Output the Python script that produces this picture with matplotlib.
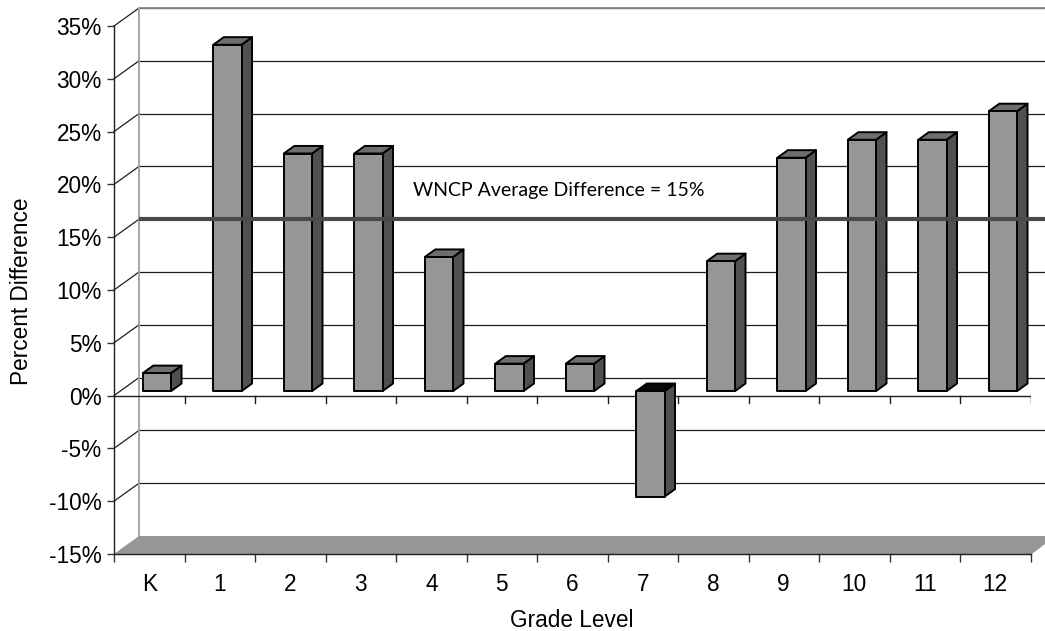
import matplotlib
matplotlib.use("Agg")
import matplotlib.pyplot as plt
from matplotlib.patches import Polygon

plt.rcParams["font.family"] = ["Liberation Sans", "DejaVu Sans"]

# ---- data ----
grades = ["K", "1", "2", "3", "4", "5", "6", "7", "8", "9", "10", "11", "12"]
pct_diff = [1.7, 32.8, 22.5, 22.5, 12.7, 2.6, 2.6, -10.0, 12.3, 22.1, 23.8, 23.8, 26.5]
average_diff = 15
avg_label = "WNCP Average Difference = 15%"
y_ticks = [-15, -10, -5, 0, 5, 10, 15, 20, 25, 30, 35]

# ---- geometry / style ----
W, H = 1045, 631
FS = 16.3
fig = plt.figure(figsize=(W / 100, H / 100), dpi=100)
ax_left, ax_right, ax_top, ax_bottom = 114, 1030.5, 26, 554
ax = fig.add_axes([ax_left / W, 1 - ax_bottom / H, (ax_right - ax_left) / W, (ax_bottom - ax_top) / H])
n = len(grades)
ymin, ymax = -15, 35
ax.set_xlim(0, n)
ax.set_ylim(ymin, ymax)

px_x = (ax_right - ax_left) / n
px_y = (ax_bottom - ax_top) / (ymax - ymin)
DX = 25 / px_x      # depth offset in x data units
DY = 18 / px_y      # depth offset in y data units

line_col = "#1e1e1e"
far = n + 2  # beyond the right edge (clipped by figure)

# back wall gridlines, side-wall diagonals
for t in y_ticks:
    if t == ymin:
        continue
    ax.plot([DX, far], [t + DY, t + DY], color=line_col, lw=0.9, clip_on=False, zorder=1)
    ax.plot([0, DX], [t, t + DY], color=line_col, lw=0.9, clip_on=False, zorder=1)
# back wall top border and left edge
ax.plot([DX, far], [ymax + DY, ymax + DY], color="#8a8a8a", lw=1.3, clip_on=False, zorder=1)
ax.plot([DX, DX], [ymin + DY, ymax + DY], color="#a0a0a0", lw=1.3, clip_on=False, zorder=1)

# floor
floor = Polygon([(0, ymin), (n + 0.02, ymin), (n + DX, ymin + DY), (DX, ymin + DY)],
                closed=True, facecolor="#969696", edgecolor="none", clip_on=False, zorder=2)
ax.add_patch(floor)

# front zero line (category axis) with tick marks
ax.plot([0, n], [0, 0], color=line_col, lw=1.0, zorder=2)
tick_len = 7 / px_y
for k in range(1, n + 1):
    ax.plot([k, k], [0, -tick_len], color=line_col, lw=1.0, zorder=2)

# bars (3D look)
d0 = 0.25          # depth where the bar front sits
bd = 0.42          # bar depth fraction
bw = 0.40          # bar width
ox, oy = d0 * DX, d0 * DY
tx, ty = bd * DX, bd * DY
edge_kw = dict(edgecolor="black", linewidth=1.4, joinstyle="round", clip_on=False)
for i, v in enumerate(pct_diff):
    x0 = i + 0.32 + ox
    x1 = x0 + bw
    b = oy
    lo, hi = min(b, b + v), max(b, b + v)
    # side face
    ax.add_patch(Polygon([(x1, lo), (x1 + tx, lo + ty), (x1 + tx, hi + ty), (x1, hi)],
                         facecolor="#505050", zorder=3 + i * 0.01, **edge_kw))
    # top face
    top_col = "#6e6e6e" if v >= 0 else "#0a0a0a"
    ax.add_patch(Polygon([(x0, hi), (x1, hi), (x1 + tx, hi + ty), (x0 + tx, hi + ty)],
                         facecolor=top_col, zorder=3 + i * 0.01, **edge_kw))
    # front face
    ax.add_patch(Polygon([(x0, lo), (x1, lo), (x1, hi), (x0, hi)],
                         facecolor="#969696", zorder=3 + i * 0.01, **edge_kw))

# average line on back wall
ax.plot([DX, far], [average_diff + DY, average_diff + DY], color="#4a4a4a", lw=3.0,
        clip_on=False, zorder=5, solid_capstyle="butt")
ax.text(4.24, average_diff + DY + 2.7, avg_label, fontsize=14.0, family=["Lato", "DejaVu Sans"],
        ha="left", va="center", color="black", zorder=6)

# axes styling
for s in ["top", "right"]:
    ax.spines[s].set_visible(False)
for s in ["left", "bottom"]:
    ax.spines[s].set_color(line_col)
    ax.spines[s].set_linewidth(1.0)
    ax.spines[s].set_zorder(7)

ax.set_yticks(y_ticks)
ax.set_yticklabels([f"{t}%" for t in y_ticks])
ax.tick_params(axis="y", direction="out", length=5, width=1.0, color="#333333",
               labelsize=FS, pad=4)
ax.set_xticks(range(0, n + 1))
ax.set_xticklabels([""] * (n + 1))
ax.tick_params(axis="x", which="major", direction="out", length=5.8, width=1.0, color="#333333")
ax.set_xticks([i + 0.5 for i in range(n)], minor=True)
ax.set_xticklabels(grades, minor=True)
ax.tick_params(axis="x", which="minor", length=0, labelsize=FS, pad=14)

ax.set_xlabel("Grade Level", fontsize=FS, labelpad=9)
fig.text(22 / W, 1 - 291 / H, "Percent Difference", rotation=90, fontsize=FS,
         ha="center", va="center")
ax.patch.set_visible(False)

fig.savefig("out.png", dpi=100, facecolor="white")
